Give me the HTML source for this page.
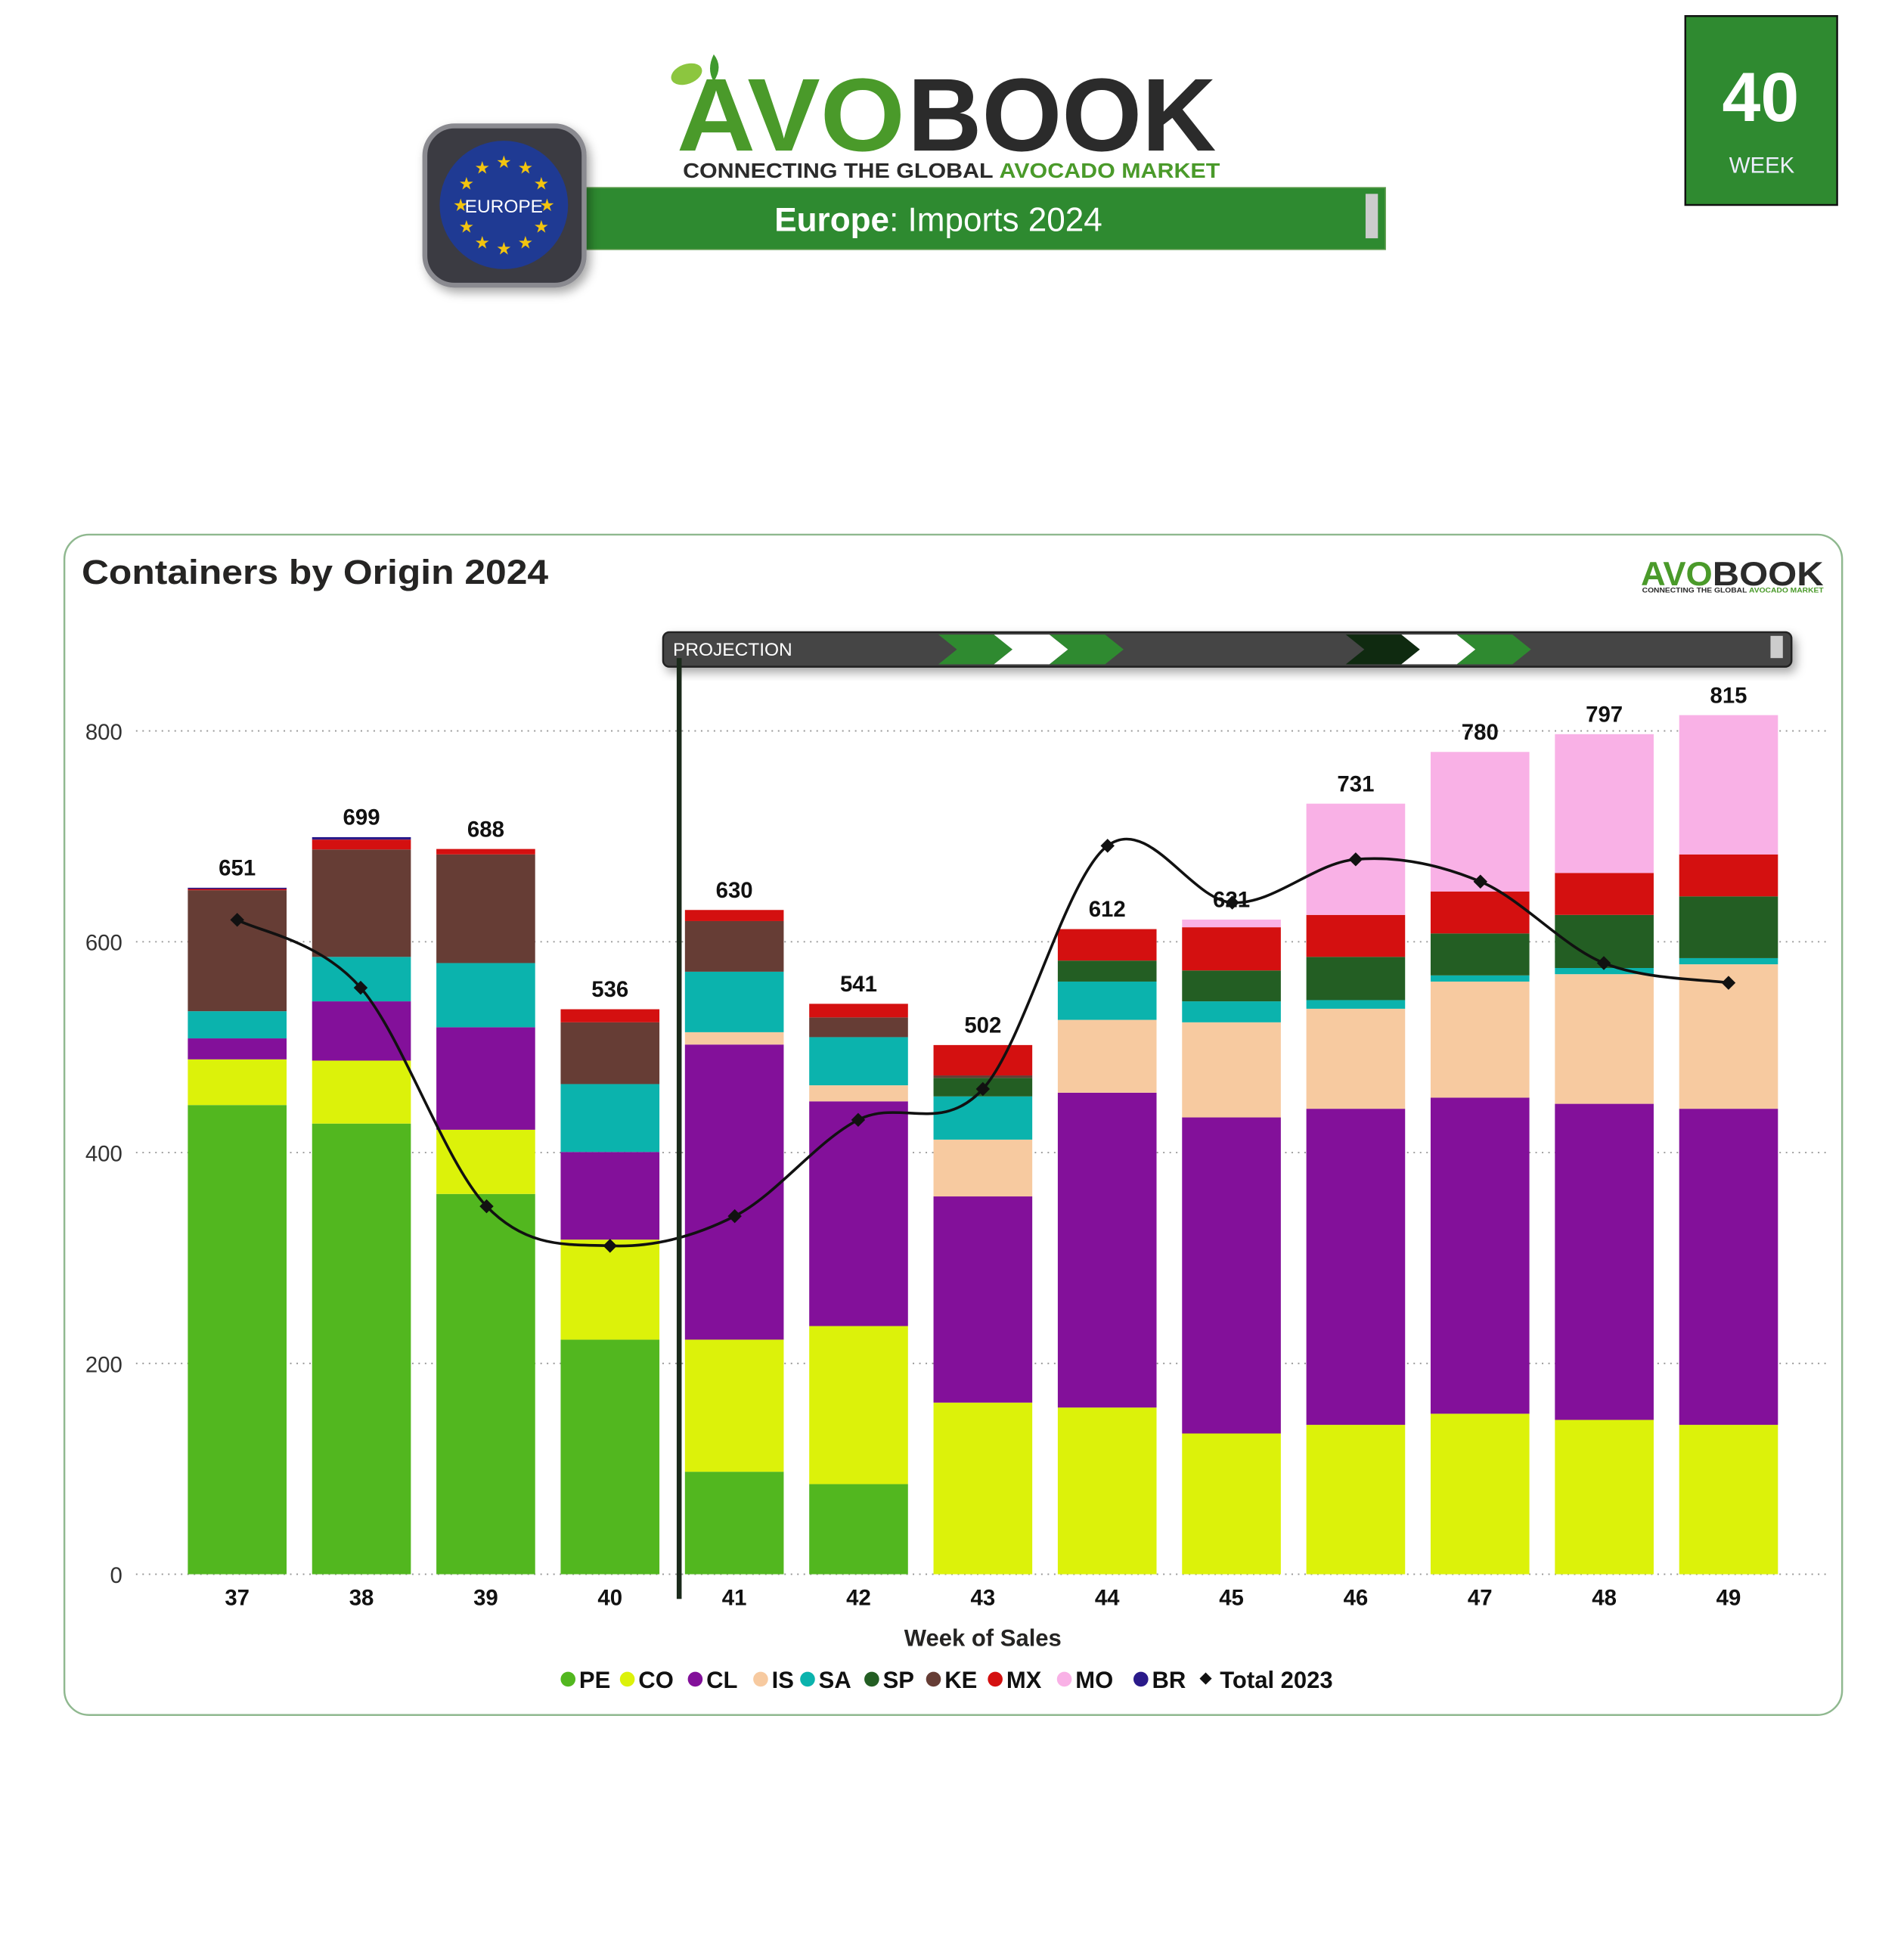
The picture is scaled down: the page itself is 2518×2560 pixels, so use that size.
<!DOCTYPE html>
<html><head><meta charset="utf-8"><style>
html,body{margin:0;padding:0;background:#fff;}
svg{display:block;}
text{font-family:"Liberation Sans","DejaVu Sans",sans-serif;}
</style></head><body>
<svg id="s" width="2518" height="2560" viewBox="0 0 1542 1568" xmlns="http://www.w3.org/2000/svg">
<defs>
<filter id="sh" x="-20%" y="-20%" width="150%" height="160%"><feDropShadow dx="3" dy="4" stdDeviation="4" flood-color="#000" flood-opacity="0.35"/></filter>
</defs>
<rect width="1542" height="1568" fill="#fff"/>
<rect x="1365" y="13" width="123" height="153" fill="#2f8a30" stroke="#111" stroke-width="1.5"/>
<text x="1426" y="98" font-size="56" font-weight="bold" fill="#fff" text-anchor="middle">40</text>
<text x="1427" y="140" font-size="18" fill="#eef" text-anchor="middle">WEEK</text>
<rect x="470" y="152" width="652" height="50" fill="#2e8a30" stroke="#5a9a4a" stroke-width="1"/>
<rect x="1106" y="157" width="10" height="36" fill="#ccc"/>
<text x="760" y="187" font-size="27" fill="#fff" text-anchor="middle"><tspan font-weight="bold">Europe</tspan>: Imports 2024</text>
<ellipse cx="556" cy="60" rx="13" ry="8" fill="#8cc63f" transform="rotate(-20 556 60)"/>
<path d="M578 44 q8 10 0 22 q-6 -10 0 -22z" fill="#3f9a2e"/>
<text x="548" y="122" font-size="84" font-weight="900" fill="#4a9a2a" textLength="185" lengthAdjust="spacingAndGlyphs">AVO</text>
<text x="735" y="122" font-size="84" font-weight="900" fill="#2b2b2b" textLength="250" lengthAdjust="spacingAndGlyphs">BOOK</text>
<text x="553" y="144" font-size="17" font-weight="bold" fill="#2b2b2b" textLength="435" lengthAdjust="spacingAndGlyphs">CONNECTING THE GLOBAL <tspan fill="#4a9a2a">AVOCADO MARKET</tspan></text>
<rect x="344" y="102" width="129" height="129" rx="24" fill="#3a3a42" stroke="#8a8a90" stroke-width="4" filter="url(#sh)"/>
<circle cx="408" cy="166" r="52" fill="#1f3a93"/>
<g id="stars" fill="#f2c40f" font-size="14" text-anchor="middle"></g>
<text x="408" y="172" font-size="15" fill="#fff" text-anchor="middle">EUROPE</text>
<rect x="52" y="433" width="1440" height="956" rx="20" fill="#fff" stroke="#8fb88f" stroke-width="1.5"/>
<text x="66" y="473" font-size="28" font-weight="bold" fill="#252423" textLength="378" lengthAdjust="spacingAndGlyphs">Containers by Origin 2024</text>
<text x="1329" y="474" font-size="27" font-weight="900" fill="#4a9a2a" textLength="58" lengthAdjust="spacingAndGlyphs">AVO</text>
<text x="1387" y="474" font-size="27" font-weight="900" fill="#2b2b2b" textLength="90" lengthAdjust="spacingAndGlyphs">BOOK</text>
<text x="1330" y="480" font-size="5.5" font-weight="bold" fill="#2b2b2b" textLength="147" lengthAdjust="spacingAndGlyphs">CONNECTING THE GLOBAL <tspan fill="#4a9a2a">AVOCADO MARKET</tspan></text>
<g id="grid"></g>
<g id="bars"></g>
<g id="line"></g>
<g filter="url(#sh)">
<rect x="537" y="512" width="914" height="28" rx="5" fill="#444" stroke="#222" stroke-width="1.5"/>
</g>
<polygon points="760,514 805,514 820,526 805,538 760,538 775,526" fill="#2f8a30"/>
<polygon points="805,514 850,514 865,526 850,538 805,538 820,526" fill="#fff"/>
<polygon points="850,514 895,514 910,526 895,538 850,538 865,526" fill="#2f8a30"/>
<polygon points="1090,514 1135,514 1150,526 1135,538 1090,538 1105,526" fill="#0f2a10"/>
<polygon points="1135,514 1180,514 1195,526 1180,538 1135,538 1150,526" fill="#fff"/>
<polygon points="1180,514 1225,514 1240,526 1225,538 1180,538 1195,526" fill="#2f8a30"/>
<rect x="1434" y="515" width="10" height="18" fill="#ccc"/>
<text x="545" y="531" font-size="15" fill="#fff">PROJECTION</text>
<rect x="548" y="533" width="4" height="762" fill="#1a2a1a"/>
<text x="796" y="1333" font-size="19" font-weight="bold" fill="#252423" text-anchor="middle">Week of Sales</text>
<g id="legend" font-size="19" font-weight="bold" fill="#111"></g>
</svg>
<script>
var NS="http://www.w3.org/2000/svg";
function el(p,t,a,txt){var e=document.createElementNS(NS,t);for(var k in a)e.setAttribute(k,a[k]);if(txt!=null)e.textContent=txt;document.getElementById(p).appendChild(e);return e;}
for(var i=0;i<12;i++){var a=i*Math.PI/6;el("stars","text",{x:408+35*Math.sin(a),y:166-35*Math.cos(a)+5},"★");}
var Y0=1275,S=683/800;
[0,200,400,600,800].forEach(function(v){var y=Y0-v*S;
el("grid","line",{x1:110,x2:1482,y1:y,y2:y,stroke:"#999","stroke-width":1.2,"stroke-dasharray":"1.2,4"});
el("grid","text",{x:99,y:y+7,"font-size":18,fill:"#333","text-anchor":"end"},String(v));});
var C={PE:"#52b71f",CO:"#dcf20a",CL:"#83109a",IS:"#f7caa0",SA:"#0bb3ad",SP:"#235e23",KE:"#663d35",MX:"#d41010",MO:"#f9b1e6",BR:"#2a1a8a"};
var D=[
[37,651,[["PE",895],["CO",858],["CL",841],["SA",819],["KE",721],["MX",720],["BR",719]]],
[38,699,[["PE",910],["CO",859],["CL",811],["SA",775],["KE",688],["MX",680],["BR",678]]],
[39,688,[["PE",967],["CO",915],["CL",832],["SA",780],["KE",692],["MX",687.6]]],
[40,536,[["PE",1085],["CO",1004],["CL",933],["SA",878],["KE",828],["MX",817.4]]],
[41,630,[["PE",1192],["CO",1085],["CL",846],["IS",836],["SA",787],["KE",746],["MX",737]]],
[42,541,[["PE",1202],["CO",1074],["CL",892],["IS",879],["SA",840],["KE",824],["MX",813]]],
[43,502,[["CO",1136],["CL",969],["IS",923],["SA",888],["SP",873],["KE",871],["MX",846.4]]],
[44,612,[["CO",1140],["CL",885],["IS",826],["SA",795],["SP",778],["MX",752.5]]],
[45,621,[["CO",1161],["CL",905],["IS",828],["SA",811],["SP",786],["MX",751],["MO",744.8]]],
[46,731,[["CO",1154],["CL",898],["IS",817],["SA",810],["SP",775],["MX",741],["MO",650.9]]],
[47,780,[["CO",1145],["CL",889],["IS",795],["SA",790],["SP",756],["MX",722],["MO",609]]],
[48,797,[["CO",1150],["CL",894],["IS",789],["SA",784],["SP",741],["MX",707],["MO",594.6]]],
[49,815,[["CO",1154],["CL",898],["IS",781],["SA",776],["SP",726],["MX",692],["MO",579.2]]]];
D.forEach(function(d,i){var cx=192+i*100.67,prev=Y0;
d[2].forEach(function(s){el("bars","rect",{x:cx-40,y:s[1],width:80,height:prev-s[1],fill:C[s[0]]});prev=s[1];});
el("bars","text",{x:cx,y:prev-10,"font-size":18,"font-weight":"bold",fill:"#111","text-anchor":"middle"},String(d[1]));
el("bars","text",{x:cx,y:1300,"font-size":18,"font-weight":"bold",fill:"#111","text-anchor":"middle"},String(d[0]));});
var P=[[192,745],[292,800],[394,977],[494,1009],[595,985],[695,907],[796,882],[897,685],[998,731],[1098,696],[1199,714],[1299,780],[1400,796]];
var d="M"+P[0][0]+","+P[0][1];
for(var i=0;i<P.length-1;i++){var p0=P[i-1]||P[i],p1=P[i],p2=P[i+1],p3=P[i+2]||p2;
var c1=[p1[0]+(p2[0]-p0[0])/6,p1[1]+(p2[1]-p0[1])/6],c2=[p2[0]-(p3[0]-p1[0])/6,p2[1]-(p3[1]-p1[1])/6];
d+=" C"+c1+" "+c2+" "+p2;}
el("line","path",{d:d,fill:"none",stroke:"#111","stroke-width":2.2});
P.forEach(function(p){el("line","rect",{x:p[0]-4,y:p[1]-4,width:8,height:8,fill:"#111",transform:"rotate(45 "+p[0]+" "+p[1]+")"});});
var L=[["PE",460],["CO",508],["CL",563],["IS",616],["SA",654],["SP",706],["KE",756],["MX",806],["MO",862],["BR",924]];
L.forEach(function(l){el("legend","circle",{cx:l[1],cy:1360,r:6,fill:C[l[0]]});el("legend","text",{x:l[1]+9,y:1367},l[0]);});
el("legend","rect",{x:973,y:1356,width:7,height:7,fill:"#111",transform:"rotate(45 976.5 1359.5)"});
el("legend","text",{x:988,y:1367},"Total 2023");
</script>
</body></html>
